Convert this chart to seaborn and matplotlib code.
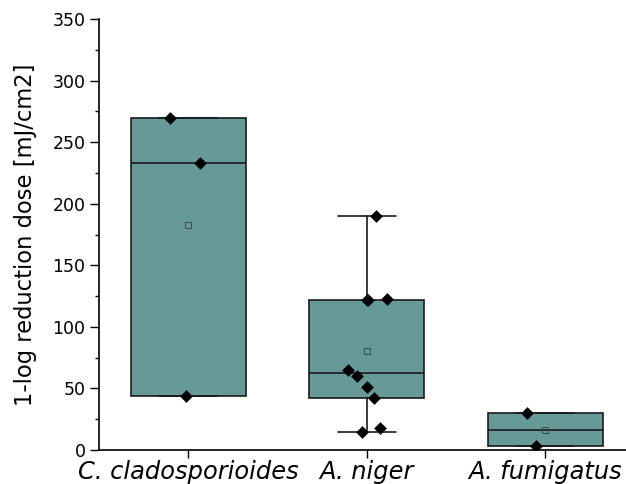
import numpy as np
import pandas as pd
import matplotlib
matplotlib.use("Agg")
import matplotlib.pyplot as plt
import seaborn as sns
from matplotlib.ticker import MultipleLocator

# ---- data ----
categories = ["C. cladosporioides", "A. niger", "A. fumigatus"]
clado_vals = [270, 233, 44]
niger_vals = [190, 123, 122, 122, 65, 60, 51, 42, 18, 15]
fumig_vals = [30, 3]
ylabel = "1-log reduction dose [mJ/cm2]"

series = [clado_vals, niger_vals, fumig_vals]
df = pd.DataFrame({
    "species": [c for c, v in zip(categories, series) for _ in v],
    "value": [x for v in series for x in v],
})

sns.set_style("ticks")
plt.rcParams["font.family"] = ["DejaVu Sans"]
plt.rcParams["text.color"] = "black"
plt.rcParams["axes.labelcolor"] = "black"
plt.rcParams["xtick.color"] = "black"
plt.rcParams["ytick.color"] = "black"

fig = plt.figure(figsize=(6.26, 4.84), dpi=100)
ax = fig.add_axes([99 / 626, 34 / 484, 535.5 / 626, 431 / 484])


def box_stats(v):
    s = np.sort(np.asarray(v, dtype=float))
    n = len(s)
    h = n // 2
    return dict(med=np.median(s), q1=np.median(s[:h]), q3=np.median(s[n - h:]),
                whislo=s.min(), whishi=s.max(), mean=s.mean(), fliers=[])


stats = [box_stats(v) for v in series]
box_color = "#689999"
edge = "#1a1a1a"
ax.bxp(stats, positions=range(len(categories)), widths=0.645, capwidths=0.325,
       patch_artist=True, showmeans=True, manage_ticks=False,
       boxprops=dict(facecolor=box_color, edgecolor=edge, linewidth=1.2),
       medianprops=dict(color=edge, linewidth=1.2),
       whiskerprops=dict(color=edge, linewidth=1.2),
       capprops=dict(color=edge, linewidth=1.2),
       meanprops=dict(marker="s", markerfacecolor="none", markeredgecolor="#3a4a4a",
                      markersize=4, markeredgewidth=0.7))

np.random.seed(7)
sns.stripplot(data=df, x="species", y="value", order=categories, color="black",
              marker="D", size=6.5, jitter=0.12, linewidth=0, ax=ax, zorder=4)

ax.set_xlim(-0.5, 2.5)
ax.set_ylim(0, 350)
ax.yaxis.set_major_locator(MultipleLocator(50))
ax.yaxis.set_minor_locator(MultipleLocator(25))
ax.set_xlabel("")
ax.set_ylabel(ylabel, fontsize=16.3, labelpad=11, color="black")
ax.tick_params(axis="y", which="major", length=6.3, width=1, labelsize=12.5,
               color="black", labelcolor="black")
ax.tick_params(axis="y", which="minor", length=3.2, width=1, color="black")
ax.tick_params(axis="x", which="major", length=6, width=1, labelsize=17.4, pad=1,
               color="black", labelcolor="black")
for lab in ax.get_xticklabels():
    lab.set_fontstyle("italic")
for side in ["top", "right"]:
    ax.spines[side].set_visible(False)
for side in ["left", "bottom"]:
    ax.spines[side].set_linewidth(1.2)
    ax.spines[side].set_color("black")

fig.savefig("out.png", dpi=100)
